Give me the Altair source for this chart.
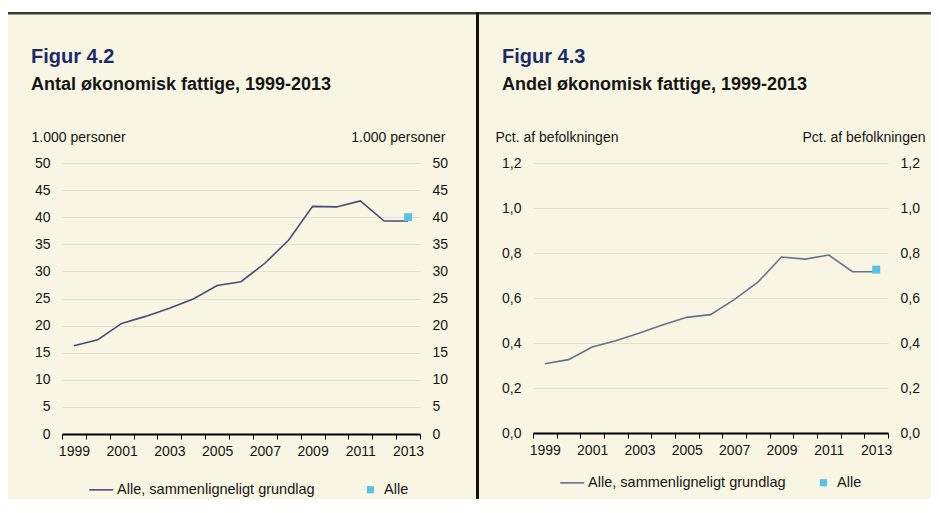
import altair as alt
import pandas as pd

# ---------------- data ----------------
years = list(range(1999, 2014))
antal = [16.3, 17.4, 20.4, 21.7, 23.2, 24.9, 27.4, 28.1, 31.5, 35.8, 42.0, 41.9, 43.0, 39.3, 39.3]
andel = [0.308, 0.326, 0.382, 0.410, 0.444, 0.481, 0.514, 0.526, 0.593, 0.670, 0.782, 0.773, 0.791, 0.717, 0.717]
alle_years = [2013]
alle_antal = [40.0]
alle_andel = [0.726]
legend_labels = ["Alle, sammenligneligt grundlag", "Alle"]
antal_ticks = [0, 5, 10, 15, 20, 25, 30, 35, 40, 45, 50]
andel_ticks = [0.0, 0.2, 0.4, 0.6, 0.8, 1.0, 1.2]

# ---------------- style ----------------
FONT = "Liberation Sans"
CREAM = "#F8F6E2"
GRID = "#E2E0CE"
ALLE = "#5BC2E7"
TITLE_BLUE = "#1C2A6B"
TXT = "#151515"
# legend symbol shapes (unit = half the symbol size)
LINE_PATH = "M-3,0L1,0"
SQUARE_PATH = "M-1.233,-0.6L-0.033,-0.6L-0.033,0.6L-1.233,0.6Z"


def one():
    return alt.Data(values=[{}])


def rect(x1, x2, y1, y2, color):
    return alt.Chart(one()).mark_rect(color=color, strokeWidth=0).encode(
        x=alt.value(x1), x2=alt.value(x2), y=alt.value(y1), y2=alt.value(y2)
    )


def text(txt, x, y, size, color):
    return alt.Chart(one()).mark_text(
        text=txt, align="left", baseline="alphabetic", font=FONT,
        fontSize=size, fontWeight="bold", color=color
    ).encode(x=alt.value(x), y=alt.value(y))


def panel(vals, alle_vals, ticks, ymax, label_expr, ytitle, fig, subtitle,
          w, h, left_px, right_px, line_color, lt_x, rt_x, leg_y, col_pad, divider):
    xenc = alt.X(
        "aar:O",
        scale=alt.Scale(type="band", domain=years, paddingInner=0, paddingOuter=0),
        axis=alt.Axis(
            tickBand="extent", labelExpr="datum.value % 2 == 1 ? datum.label : ''",
            labelAngle=0, domainColor="#000", domainWidth=2, tickColor="#000",
            tickWidth=1, tickSize=5, labelPadding=5, grid=False, title=None,
            labelFontSize=14,
        ),
    )
    yscale = alt.Scale(domain=[0, ymax], nice=False, zero=True)
    common = dict(values=ticks, ticks=False, domain=False, labelPadding=12,
                  title=ytitle, titleAngle=0, titleBaseline="alphabetic",
                  titleY=-22, labelFontSize=14, titleFontSize=14,
                  titleFontWeight="normal")
    if label_expr:
        common["labelExpr"] = label_expr
    left_axis = alt.Axis(orient="left", grid=True, gridColor=GRID, gridWidth=1,
                         titleAlign="left", titleX=lt_x, **common)
    right_axis = alt.Axis(orient="right", grid=False, titleAlign="right",
                          titleX=rt_x, **common)

    df = pd.DataFrame({"aar": years, "v": vals})
    df_alle = pd.DataFrame({"aar": alle_years, "v": alle_vals})

    line = alt.Chart(df).mark_line(color=line_color, strokeWidth=1.6).encode(
        x=xenc, y=alt.Y("v:Q", scale=yscale, axis=left_axis)
    )
    sq = alt.Chart(df_alle).mark_square(color=ALLE, size=64, opacity=1).encode(
        x=xenc, y=alt.Y("v:Q", scale=yscale, axis=right_axis)
    )

    lg = alt.Legend(
        orient="none", legendX=38, legendY=leg_y, direction="horizontal",
        title=None, columnPadding=col_pad, labelFont=FONT, labelFontSize=14.5,
        labelColor=TXT, labelLimit=500, symbolSize=144, symbolStrokeWidth=1.6,
        symbolOpacity=1, labelOffset=2.6, padding=0,
    )
    leg_df = pd.DataFrame({"serie": legend_labels})
    leg = alt.Chart(leg_df).mark_point(filled=True, opacity=0).encode(
        fill=alt.Fill("serie:N", scale=alt.Scale(domain=legend_labels, range=[line_color, ALLE]), legend=lg),
        stroke=alt.Stroke("serie:N", scale=alt.Scale(domain=legend_labels, range=[line_color, "transparent"]), legend=lg),
        shape=alt.Shape("serie:N", scale=alt.Scale(domain=legend_labels, range=[LINE_PATH, SQUARE_PATH]), legend=lg),
    )

    decos = [
        rect(left_px, right_px, -155, -151, "#FFFFFF"),
        rect(left_px, right_px, -151, -148.5, "#3C3C3C"),
        rect(left_px, right_px, 328, 336, CREAM),
    ]
    if divider:
        decos.append(rect(right_px - 3, right_px, -151, 336, "#111111"))

    titles = [
        text(fig, -31, -100, 20, TITLE_BLUE),
        text(subtitle, -31, -73, 18, TXT),
    ]
    return alt.layer(*decos, line, sq, leg, *titles).resolve_scale(
        y="independent"
    ).properties(width=w, height=h)


left = panel(antal, alle_antal, antal_ticks, 50, None, "1.000 personer",
             "Figur 4.2", "Antal økonomisk fattige, 1999-2013",
             358, 271, -54, 417, "#454C78", -31, 25, 319, 48, True)
right = panel(andel, alle_andel, andel_ticks, 1.2,
              "replace(format(datum.value, '.1f'), '.', ',')",
              "Pct. af befolkningen",
              "Figur 4.3", "Andel økonomisk fattige, 1999-2013",
              355, 270, -54, 398, "#66708F", -38, 37, 312, 30, False)

chart = alt.hconcat(left, right, spacing=0).resolve_scale(
    fill="independent", stroke="independent", shape="independent"
).resolve_legend(
    fill="independent", stroke="independent", shape="independent"
).properties(padding=0).configure(
    background=CREAM, font=FONT
).configure_view(stroke=None).configure_axis(
    labelFont=FONT, titleFont=FONT, labelColor=TXT, titleColor=TXT
)

chart.save("out.html", embed_options={"renderer": "svg", "actions": False})
